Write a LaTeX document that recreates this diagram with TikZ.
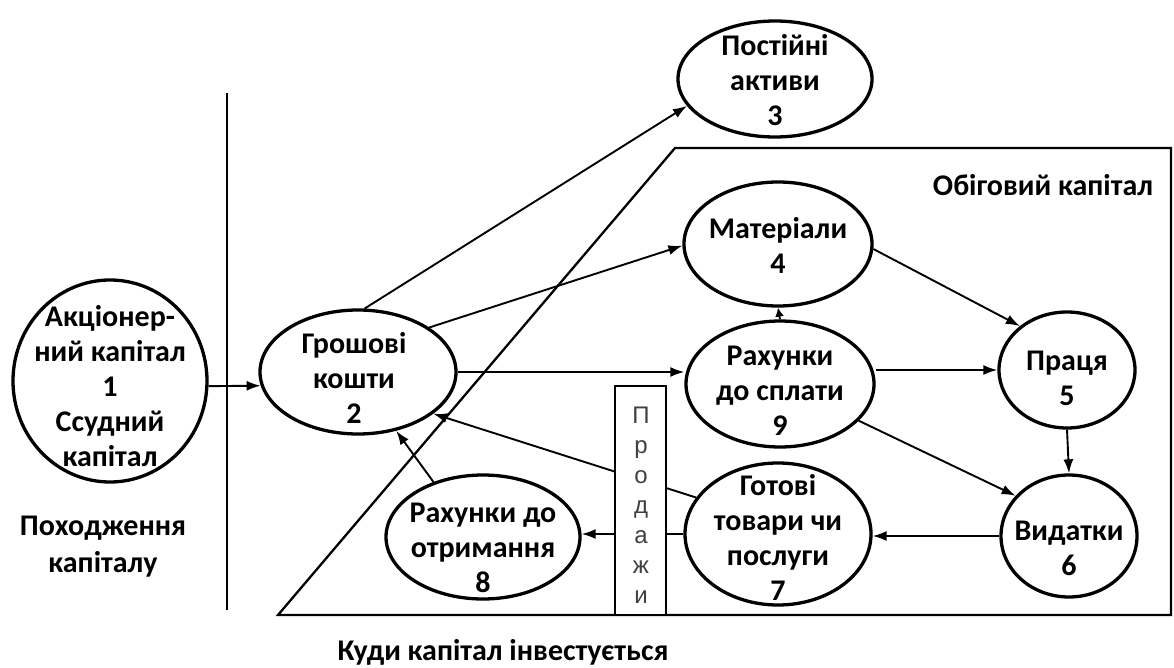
\documentclass[tikz,border=0pt]{standalone}
\usepackage{fontspec}
\setmainfont{Carlito}
\newfontfamily\arialf{Liberation Sans}
\usetikzlibrary{shapes.geometric,arrows.meta}
\begin{document}
\begin{tikzpicture}[x=1pt,y=-1pt,
  oval/.style={ellipse, draw, line width=3.3pt, fill=white, inner sep=0pt},
  lbl/.style={align=center, font=\fontsize{30}{35}\selectfont\bfseries, inner sep=0pt},
  arr/.style={line width=1.9pt, -{Latex[length=14pt,width=10pt]}},
  shortarr/.style={line width=1.9pt, -{Latex[length=9pt,width=9pt]}},
  frame/.style={line width=2.3pt}]
\useasboundingbox (0,0) rectangle (1174,668);
% frames
\draw[frame] (675,148) -- (1171,148) -- (1171,615) -- (278,615) -- cycle;
\draw[line width=2.7pt] (227,93) -- (227,610);
% ellipses
\node[oval, minimum width=194pt, minimum height=202pt] (n1) at (110,381) {};
\node[oval, minimum width=196pt, minimum height=124pt] (n2) at (358,372) {};
\node[oval, minimum width=194pt, minimum height=116pt] (n3) at (775,79) {};
\node[oval, minimum width=188pt, minimum height=124pt] (n4) at (778,244) {};
\node[oval, minimum width=188pt, minimum height=126pt] (n9) at (780,384) {};
\node[oval, minimum width=136pt, minimum height=116pt] (n5) at (1067,370) {};
\node[oval, minimum width=136pt, minimum height=122pt] (n6) at (1069,536) {};
\node[oval, minimum width=186pt, minimum height=142pt] (n7) at (778,534) {};
\node[oval, minimum width=194pt, minimum height=124pt] (n8) at (483,537) {};
% texts
\node[lbl] (t1) at (110,386) {Акціонер-\\ний капітал\\1\\Ссудний\\капітал};
\node[lbl] (t2) at (354,378) {Грошові\\кошти\\2};
\node[lbl] (t3) at (775,80) {Постійні\\активи\\3};
\node[lbl] (t4) at (778,245) {Матеріали\\4};
\node[lbl] (t9) at (780,391) {Рахунки\\до сплати\\9};
\node[lbl] (t5) at (1067,378) {Праця\\5};
\node[lbl] (t6) at (1069,548) {Видатки\\6};
\node[lbl] (t7) at (778,537) {Готові\\товари чи\\послуги\\7};
\node[lbl] (t8) at (483,548) {Рахунки до\\отримання\\8};
\node[lbl, font=\fontsize{30}{37}\selectfont\bfseries] (lorig) at (103,547) {Походження\\капіталу};
\node[lbl] (lwork) at (1043,185) {Обіговий капітал};
\node[lbl] (linv) at (503,652) {Куди капітал інвестується};
% connectors
\draw[arr] (n1.357) -- (n2.188);
\draw[arr] (n2.84) -- (n3.197);
\draw[arr] (n2.32) -- (n4.181);
\draw[arr] (n2.east) -- (n2.east -| n9.west);
\draw[shortarr] (n9.north) -- (n4.south);
\draw[arr] (n4.357) -- (n5.137);
\draw[arr] (n9.east |- n5.west) -- (n5.west);
\draw[arr] (n9.335) -- (n6.143);
\draw[arr] (n5.south) -- (n6.north);
\draw[arr] (n6.west) -- (n6.west -| n7.east);
\draw[arr] (n7.west) -- (n7.west -| n8.east);
\draw[arr] (n7.156) -- (n2.331);
\draw[arr] (n8.132) -- (n2.303);
% sales box
\node[draw, line width=2pt, fill=white, minimum width=51pt, minimum height=229pt, inner sep=0pt] (sales) at (640,500) {};
\node[align=center, font=\arialf\fontsize{24}{30}\selectfont, text=black!75, inner sep=0pt] (salestxt) at (641,505) {П\\р\\о\\д\\а\\ж\\и};
\end{tikzpicture}
\end{document}
